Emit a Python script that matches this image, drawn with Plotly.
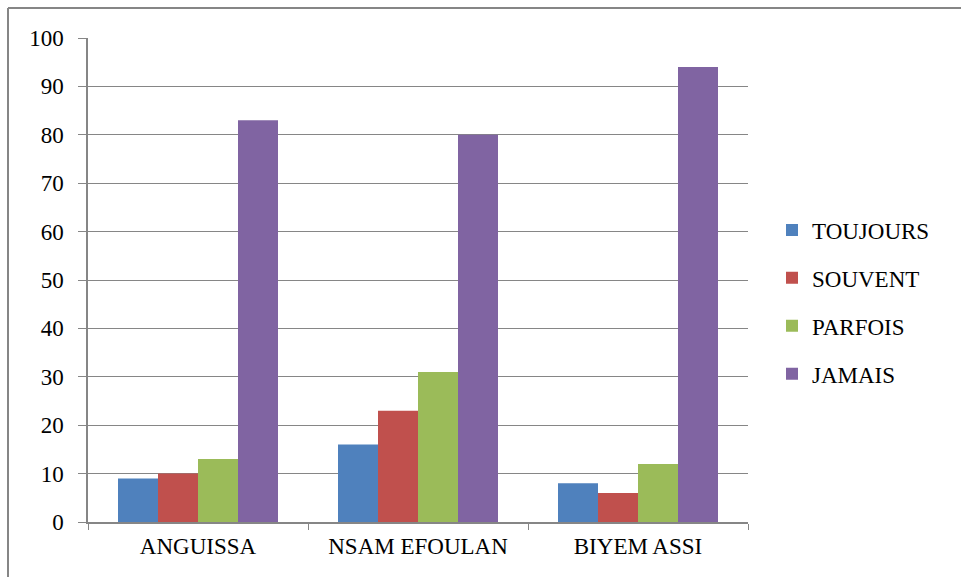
import plotly.graph_objects as go

categories = ["ANGUISSA", "NSAM EFOULAN", "BIYEM ASSI"]
series_names = ["TOUJOURS", "SOUVENT", "PARFOIS", "JAMAIS"]
toujours = [9, 16, 8]
souvent = [10, 23, 6]
parfois = [13, 31, 12]
jamais = [83, 80, 94]
colors = ["#4F81BD", "#C0504D", "#9BBB59", "#8064A2"]
y_ticks = list(range(0, 101, 10))

values = [toujours, souvent, parfois, jamais]

fig = go.Figure()
for name, vals, col in zip(series_names, values, colors):
    fig.add_trace(go.Bar(x=categories, y=vals, name=name, marker_color=col,
                         marker_line_width=0, legendgroup=name))

ML, MR, MT, MB = 88, 213, 38, 55
W, H = 961, 577
pw, ph = W - ML - MR, H - MT - MB
FONT = "'Liberation Serif', 'Times New Roman', 'DejaVu Serif', serif"
FS = 23

def px_x(p):
    return (p - ML) / pw

def px_y(p):
    return (H - MB - p) / ph

fig.update_layout(
    width=W, height=H,
    margin=dict(l=ML, r=MR, t=MT, b=MB),
    paper_bgcolor="white", plot_bgcolor="white",
    barmode="group", bargap=0.2727, bargroupgap=0,
    font=dict(family=FONT, size=FS, color="black"),
    showlegend=True,
    legend=dict(x=px_x(772), y=px_y(302), xanchor="left", yanchor="middle",
                font=dict(family=FONT, size=FS), tracegroupgap=15, itemwidth=30),
    xaxis=dict(showline=True, linecolor="#868686", linewidth=1.5,
               ticks="outside", tickcolor="#868686", ticklen=6, tickson="boundaries",
               showgrid=False, tickfont=dict(family=FONT, size=FS), ticklabelstandoff=3),
    yaxis=dict(range=[0, 100], tickvals=y_ticks, showline=True, linecolor="#868686",
               linewidth=1.5, ticks="outside", tickcolor="#868686", ticklen=8,
               showgrid=True, gridcolor="#868686", gridwidth=1.2, zeroline=False,
               tickfont=dict(family=FONT, size=FS), ticklabelstandoff=10),
    shapes=[
        dict(type="line", xref="paper", yref="paper",
             x0=px_x(8), x1=px_x(980), y0=px_y(8), y1=px_y(8),
             line=dict(color="#868686", width=2)),
        dict(type="line", xref="paper", yref="paper",
             x0=px_x(8), x1=px_x(8), y0=px_y(8), y1=px_y(600),
             line=dict(color="#868686", width=2)),
    ],
)
fig.write_html("out.html")
